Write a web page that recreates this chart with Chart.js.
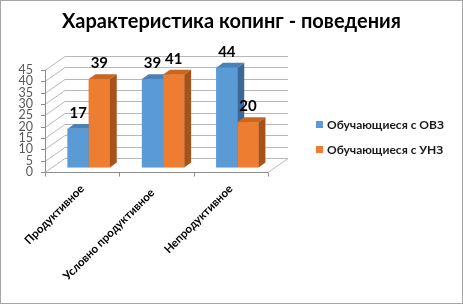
<!DOCTYPE html>
<html>
<head>
<meta charset="utf-8">
<script src="https://cdn.jsdelivr.net/npm/chart.js@4.4.0/dist/chart.umd.min.js"></script>
<style>
  body { margin: 0; background: #fff; }
  #wrap { width: 463px; height: 304px; }
</style>
</head>
<body>
<div id="wrap"><canvas id="copingChart" width="463" height="304"></canvas></div>
<script>
// данные диаграммы
const chartTitle = 'Характеристика копинг - поведения';
const categories = ['Продуктивное', 'Условно продуктивное  ', 'Непродуктивное'];
const seriesNames = ['Обучающиеся с ОВЗ', 'Обучающиеся с УНЗ'];
const ovzValues = [17, 39, 44];
const unzValues = [39, 41, 20];
const yTicks = [0, 5, 10, 15, 20, 25, 30, 35, 40, 45];

const FONT = 'Lato, "Open Sans", "DejaVu Sans", sans-serif';

// цвета: лицевая грань, верх, бок
const faceColors = [
    { front: '#5b9bd5', top: '#4a82b8', side: '#3b6896' },
    { front: '#ed7d31', top: '#c9661f', side: '#a8521a' }
];

// смещение задней стенки и глубина столбцов
const WALL = { dx: 20, dy: -14 };
const BAR_SHIFT = { dx: 6.6, dy: -4.6 };
const BAR_DEPTH = { dx: 6.8, dy: -4.8 };

const wallPlugin = {
    id: 'wall3d',
    beforeDatasetsDraw(chart) {
        const ctx = chart.ctx;
        const area = chart.chartArea;
        const y = chart.scales.y;
        ctx.save();
        ctx.strokeStyle = '#b8b8b8';
        ctx.lineWidth = 1;
        yTicks.forEach(v => {
            const py = Math.round(y.getPixelForValue(v)) + 0.5;
            ctx.beginPath();
            ctx.moveTo(area.left, py);
            ctx.lineTo(area.left + WALL.dx, py + WALL.dy);
            ctx.lineTo(area.right + WALL.dx, py + WALL.dy);
            ctx.stroke();
        });
        // пол
        const by = Math.round(y.getPixelForValue(0)) + 0.5;
        ctx.beginPath();
        ctx.moveTo(area.right, by);
        ctx.lineTo(area.right + WALL.dx, by + WALL.dy);
        ctx.stroke();

        // оси
        ctx.strokeStyle = '#8c8c8c';
        ctx.beginPath();
        ctx.moveTo(area.left + 0.5, Math.round(y.getPixelForValue(45)));
        ctx.lineTo(area.left + 0.5, by);
        ctx.lineTo(area.right, by);
        ctx.stroke();
        yTicks.forEach(v => {
            const py = Math.round(y.getPixelForValue(v)) + 0.5;
            ctx.beginPath();
            ctx.moveTo(area.left - 4, py);
            ctx.lineTo(area.left, py);
            ctx.stroke();
        });
        const step = (area.right - area.left) / categories.length;
        for (let i = 0; i <= categories.length; i++) {
            const px = Math.round(area.left + step * i) + 0.5;
            ctx.beginPath();
            ctx.moveTo(px, by);
            ctx.lineTo(px, by + 4);
            ctx.stroke();
        }
        ctx.restore();

        // столбцы стоят в середине глубины
        ctx.save();
        ctx.translate(BAR_SHIFT.dx, BAR_SHIFT.dy);
    },
    afterDatasetsDraw(chart) {
        const ctx = chart.ctx;
        const metas = chart.data.datasets.map((d, i) => chart.getDatasetMeta(i));
        for (let c = 0; c < categories.length; c++) {
            metas.forEach((meta, s) => {
                const bar = meta.data[c];
                const col = faceColors[s];
                const l = bar.x - bar.width / 2;
                const r = bar.x + bar.width / 2;
                const t = bar.y;
                const b = bar.base;
                ctx.fillStyle = col.front;
                ctx.fillRect(l, t, r - l, b - t);
                ctx.fillStyle = col.top;
                ctx.beginPath();
                ctx.moveTo(l, t);
                ctx.lineTo(r, t);
                ctx.lineTo(r + BAR_DEPTH.dx, t + BAR_DEPTH.dy);
                ctx.lineTo(l + BAR_DEPTH.dx, t + BAR_DEPTH.dy);
                ctx.closePath();
                ctx.fill();
                ctx.fillStyle = col.side;
                ctx.beginPath();
                ctx.moveTo(r, t);
                ctx.lineTo(r + BAR_DEPTH.dx, t + BAR_DEPTH.dy);
                ctx.lineTo(r + BAR_DEPTH.dx, b + BAR_DEPTH.dy);
                ctx.lineTo(r, b);
                ctx.closePath();
                ctx.fill();
            });
        }
        // подписи значений
        ctx.fillStyle = '#000';
        ctx.font = 'bold 15px ' + FONT;
        ctx.textAlign = 'center';
        ctx.textBaseline = 'middle';
        metas.forEach((meta, s) => {
            meta.data.forEach((bar, i) => {
                ctx.fillText(String(chart.data.datasets[s].data[i]), bar.x, bar.y - 15.5);
            });
        });
        ctx.restore();
    },
    afterDraw(chart) {
        const ctx = chart.ctx;
        ctx.save();
        // заголовок
        ctx.fillStyle = '#000';
        ctx.font = 'bold 20px ' + FONT;
        ctx.textAlign = 'center';
        ctx.textBaseline = 'middle';
        ctx.fillText(chartTitle, chart.width / 2, 22);
        // легенда
        ctx.font = 'bold 12px ' + FONT;
        ctx.textAlign = 'left';
        seriesNames.forEach((name, i) => {
            const cy = 125 + i * 25;
            ctx.fillStyle = faceColors[i].front;
            ctx.fillRect(316, cy - 4, 7, 7);
            ctx.fillStyle = '#1a1a1a';
            ctx.fillText(name, 327, cy);
        });
        // рамка
        ctx.strokeStyle = '#a6a6a6';
        ctx.lineWidth = 1;
        ctx.strokeRect(0.5, 0.5, chart.width - 1, chart.height - 1);
        ctx.restore();
    }
};

const ctx = document.getElementById('copingChart').getContext('2d');
const copingChart = new Chart(ctx, {
    type: 'bar',
    data: {
        labels: categories,
        datasets: [
            { label: seriesNames[0], data: ovzValues, backgroundColor: faceColors[0].front },
            { label: seriesNames[1], data: unzValues, backgroundColor: faceColors[1].front }
        ]
    },
    options: {
        responsive: false,
        animation: false,
        devicePixelRatio: 1,
        layout: { padding: { left: 0, right: 195, top: 70, bottom: 0 } },
        datasets: {
            bar: { categoryPercentage: 0.57, barPercentage: 1 }
        },
        scales: {
            y: {
                min: 0,
                max: 45,
                grid: { display: false, drawTicks: false },
                border: { display: false },
                ticks: {
                    stepSize: 5,
                    autoSkip: false,
                    padding: 12,
                    color: '#595959',
                    font: { size: 12.5, family: FONT }
                },
                afterFit: function(scale) { scale.width = 45; }
            },
            x: {
                grid: { display: false, drawTicks: false },
                border: { display: false },
                ticks: {
                    minRotation: 45,
                    maxRotation: 45,
                    padding: 10,
                    color: '#000',
                    font: { size: 11.5, weight: 'bold', family: FONT }
                },
                afterFit: function(scale) { scale.height = 132; }
            }
        },
        plugins: {
            legend: { display: false },
            tooltip: { enabled: false },
            title: { display: false }
        }
    },
    plugins: [wallPlugin]
});
</script>
</body>
</html>
